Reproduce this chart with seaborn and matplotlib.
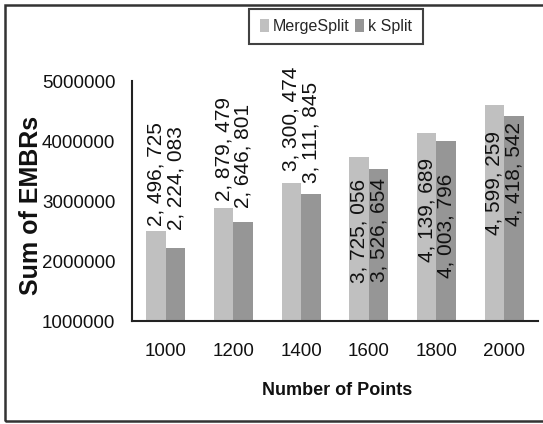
import matplotlib
matplotlib.use("Agg")
import matplotlib.pyplot as plt
from matplotlib.patches import Rectangle
import seaborn as sns
import pandas as pd

# Chart data
points = ["1000", "1200", "1400", "1600", "1800", "2000"]
methods = ["MergeSplit", "k Split"]
merge_split = [2496725, 2879479, 3300474, 3725056, 4139689, 4599259]
k_split = [2224083, 2646801, 3111845, 3526654, 4003796, 4418542]
y_ticks = [1000000, 2000000, 3000000, 4000000, 5000000]

# Vertical shift (pixels) of each value label relative to its bar top
merge_label_shift = [57, 59, 64, -73, -77, -78]
k_label_shift = [69, 66, 62, -61, -85, -58]

sns.set_theme(style="white")
plt.rcParams["font.family"] = ["Liberation Sans", "DejaVu Sans"]

df = pd.DataFrame({
    "Points": points * 2,
    "Method": [methods[0]] * len(points) + [methods[1]] * len(points),
    "EMBRs": merge_split + k_split,
})

fig = plt.figure(figsize=(5.43, 4.24), dpi=100)
ax = fig.add_axes([132 / 543, 1 - 321 / 424, (538 - 132) / 543, (321 - 81) / 424])

palette = {methods[0]: "#C0C0C0", methods[1]: "#969696"}
sns.barplot(data=df, x="Points", y="EMBRs", hue="Method", order=points,
            hue_order=methods, palette=palette, width=0.58, gap=0,
            saturation=1, edgecolor="none", linewidth=0, ax=ax, legend=False)

ax.set_ylim(1000000, 5000000)
ax.set_xlim(-0.5, len(points) - 0.5)
ax.set_yticks(y_ticks)
ax.set_yticklabels([str(v) for v in y_ticks], fontsize=13.5, color="#111111")
ax.set_xticks(range(len(points)))
ax.set_xticklabels(points, fontsize=13.5, color="#111111")
ax.tick_params(axis="y", length=0, pad=12)
ax.tick_params(axis="x", length=0, pad=16)

for side in ["top", "right"]:
    ax.spines[side].set_visible(False)
for side in ["left", "bottom"]:
    ax.spines[side].set_color("#222222")
    ax.spines[side].set_linewidth(1.5)

ax.set_ylabel("Sum of EMBRs", fontsize=18, fontweight="bold", color="#111111")
ax.yaxis.set_label_coords((43 - 132) / 406, 0.48)
ax.set_xlabel("Number of Points", fontsize=13, fontweight="bold", color="#111111")
ax.xaxis.set_label_coords(0.505, (321 - 382) / 240)

# Value labels, rotated, centred on each bar
for container, values, shifts in zip(ax.containers, [merge_split, k_split],
                                     [merge_label_shift, k_label_shift]):
    for rect, val, dy in zip(container, values, shifts):
        xc = rect.get_x() + rect.get_width() / 2
        ax.annotate(f"{val:,}".replace(",", ", "), xy=(xc, val), xytext=(0, dy),
                    textcoords="offset pixels", rotation=90, ha="center",
                    va="center", fontsize=15, color="#111111")

# Legend above the plot
handles = [Rectangle((0, 0), 1, 1, facecolor=palette[m], edgecolor="none") for m in methods]
leg = fig.legend(handles, methods, loc="center", bbox_to_anchor=(336 / 543, 1 - 26.5 / 424),
                 ncol=2, frameon=True, fancybox=False, handlelength=0.6, handleheight=0.9,
                 handletextpad=0.25, columnspacing=0.3, borderpad=0.65, borderaxespad=0,
                 prop={"size": 11.5})
leg.get_frame().set_edgecolor("#111111")
leg.get_frame().set_linewidth(1.5)

# Outer chart border
fig.patches.append(Rectangle((5, 3), 600, 416, transform=None, fill=False,
                             edgecolor="#333333", linewidth=1.8))

fig.savefig("out.png", dpi=100)
